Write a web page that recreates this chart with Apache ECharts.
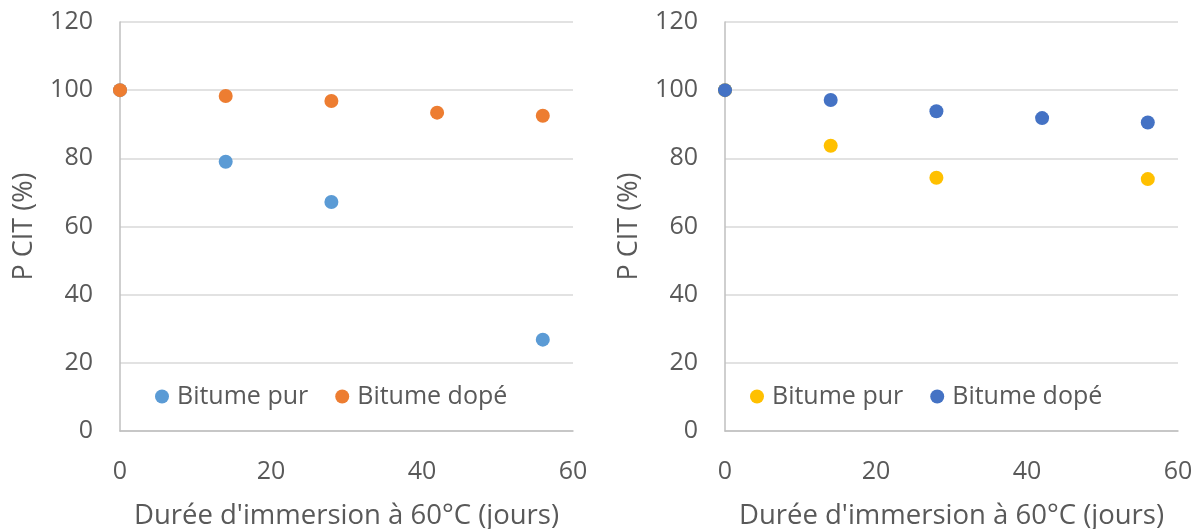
<!DOCTYPE html>
<html>
<head>
<meta charset="utf-8">
<script src="https://cdn.jsdelivr.net/npm/echarts@6/dist/echarts.min.js"></script>
<style>
html,body{margin:0;padding:0;background:#fff;}
#main{width:1201px;height:529px;}
</style>
</head>
<body>
<div id="main"></div>
<script>
// Data
const seriesNames = ['Bitume pur', 'Bitume dopé'];
const xTitle = "Durée d'immersion à 60°C (jours)";
const yTitle = 'P CIT (%)';
// Left chart
const leftPur = [[0, 100], [14, 79], [28, 67.2], [56, 26.8]];
const leftDope = [[0, 100], [14, 98.3], [28, 96.8], [42, 93.4], [56, 92.5]];
// Right chart
const rightPur = [[0, 100], [14, 83.7], [28, 74.3], [56, 73.9]];
const rightDope = [[0, 100], [14, 97.1], [28, 93.8], [42, 91.8], [56, 90.5]];
const leftColors = ['#5B9BD5', '#ED7D31'];
const rightColors = ['#FFC000', '#4472C4'];

const FONT = 'Open Sans';
const TXT = '#595959';

function xAx(gi) {
  return {
    gridIndex: gi, type: 'value', min: 0, max: 60, interval: 20,
    name: xTitle, nameLocation: 'middle', nameGap: 71,
    nameTextStyle: {fontFamily: FONT, fontSize: 27.5, color: TXT},
    axisLine: {show: true, lineStyle: {color: '#BFBFBF', width: 1.5}},
    axisTick: {show: false},
    splitLine: {show: false},
    axisLabel: {fontFamily: FONT, fontSize: 25, color: TXT, margin: 28}
  };
}
function yAx(gi) {
  return {
    gridIndex: gi, type: 'value', min: 0, max: 120, interval: 20,
    name: yTitle, nameLocation: 'middle', nameGap: 82,
    nameTextStyle: {fontFamily: FONT, fontSize: 27, color: TXT},
    axisLine: {show: true, lineStyle: {color: '#BFBFBF', width: 1.5}},
    axisTick: {show: false},
    splitLine: {show: true, lineStyle: {color: '#D9D9D9', width: 1.5}},
    axisLabel: {fontFamily: FONT, fontSize: 25, color: TXT, margin: 27}
  };
}
function sc(name, data, color, gi) {
  return {
    type: 'scatter', name: name, data: data,
    xAxisIndex: gi, yAxisIndex: gi,
    symbol: 'circle', symbolSize: 14,
    itemStyle: {color: color, opacity: 1},
    emphasis: {disabled: true}
  };
}
function leg(left, colors) {
  return {
    left: left, top: 384, itemWidth: 14, itemHeight: 14, itemGap: 27,
    icon: 'circle', selectedMode: false, padding: 0,
    textStyle: {fontFamily: FONT, fontSize: 25, color: TXT, padding: [0, 0, 0, 3]},
    data: seriesNames.map((n, i) => ({name: n, itemStyle: {color: colors[i]}}))
  };
}

const chart = echarts.init(document.getElementById('main'));
chart.setOption({
  animation: false,
  grid: [
    {left: 120, right: 1201 - 573, top: 22, bottom: 529 - 431, containLabel: false, outerBoundsMode: 'none'},
    {left: 725, right: 1201 - 1178, top: 22, bottom: 529 - 431, containLabel: false, outerBoundsMode: 'none'}
  ],
  xAxis: [xAx(0), xAx(1)],
  yAxis: [yAx(0), yAx(1)],
  legend: [leg(155, leftColors), leg(750, rightColors)],
  series: [
    sc(seriesNames[0], leftPur, leftColors[0], 0),
    sc(seriesNames[1], leftDope, leftColors[1], 0),
    sc(seriesNames[0], rightPur, rightColors[0], 1),
    sc(seriesNames[1], rightDope, rightColors[1], 1)
  ]
});
</script>
</body>
</html>
